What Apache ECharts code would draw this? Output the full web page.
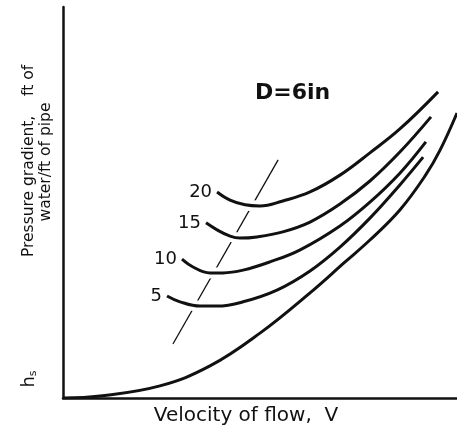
<!DOCTYPE html>
<html><head><meta charset="utf-8">
<script src="https://cdn.jsdelivr.net/npm/echarts@6/dist/echarts.min.js"></script>
<style>html,body{margin:0;padding:0;background:#fff}#c{width:457px;height:429px}</style>
</head><body><div id="c"></div>
<script>
// Clear-water curve (no label)
const clearX = [0, 9.4, 24.6, 37.3, 50.0, 62.7, 71.6, 77.9, 85.5, 91.9, 95.7, 100];
const clearY = [0, 0.5, 3.1, 8.2, 16.6, 26.9, 34.8, 40.4, 48.1, 56.8, 63.4, 72.9];
// Concentration curves (labels 20, 15, 10, 5)
const x20 = [39.1, 42.4, 46.2, 50.0, 55.8, 62.7, 70.3, 77.9, 85.5, 95.2];
const y20 = [52.7, 50.6, 49.4, 49.1, 50.4, 52.7, 57.0, 62.7, 68.8, 78.3];
const x15 = [36.3, 39.1, 42.4, 44.9, 49.2, 55.8, 62.7, 70.3, 77.9, 85.5, 93.4];
const y15 = [44.8, 43.0, 41.4, 40.9, 41.2, 42.5, 45.0, 49.6, 55.5, 62.9, 71.9];
const x10 = [30.2, 33.0, 37.3, 40.6, 45.7, 52.5, 60.2, 70.3, 77.9, 85.5, 92.1];
const y10 = [35.5, 33.5, 32.0, 32.0, 32.7, 34.8, 37.9, 44.0, 50.1, 57.5, 65.5];
const x5 = [26.4, 29.7, 34.8, 39.1, 45.7, 54.3, 62.7, 70.3, 77.9, 85.5, 91.4];
const y5 = [26.1, 24.6, 23.5, 23.5, 24.6, 27.6, 32.5, 38.6, 46.0, 54.5, 61.6];
const curveLabels = ['20', '15', '10', '5'];
// Dashed locus of minima
const dashX = [27.9, 54.6];
const dashY = [13.8, 60.9];

const INK = '#111';
const FONT = 'DejaVu Sans';
const SMOOTH = 0.4;
function pts(xs, ys) { return xs.map((x, i) => [x, ys[i]]); }

const curves = [[x20, y20], [x15, y15], [x10, y10], [x5, y5]];
const series = [];
series.push({
  type: 'line', data: pts(dashX, dashY), symbol: 'none', z: 1,
  lineStyle: { color: INK, width: 1.3 }
});
curves.forEach(c => series.push({
  type: 'line', data: pts(c[0], c[1]), symbol: 'none', smooth: SMOOTH, z: 2,
  lineStyle: { color: '#fff', width: 11 }
}));
curves.forEach((c, k) => series.push({
  type: 'line', smooth: SMOOTH, z: 3, showSymbol: true, showAllSymbol: true,
  symbol: 'circle', symbolSize: 2, itemStyle: { color: 'rgba(0,0,0,0)' },
  lineStyle: { color: INK, width: 3 },
  data: pts(c[0], c[1]).map((p, i) => i === 0 ? {
    value: p,
    label: { show: true, position: 'left', distance: 4, formatter: curveLabels[k],
      color: INK, fontSize: 18, fontFamily: FONT }
  } : { value: p })
}));
series.push({
  type: 'line', data: pts(clearX, clearY), symbol: 'none', smooth: SMOOTH, z: 3,
  lineStyle: { color: INK, width: 3 }
});

const axisCommon = {
  type: 'value', min: 0, max: 100,
  axisLine: { show: true, lineStyle: { color: INK, width: 2.5 } },
  axisTick: { show: false }, axisLabel: { show: false }, splitLine: { show: false }
};

const chart = echarts.init(document.getElementById('c'));
chart.setOption({
  animation: false,
  backgroundColor: '#fff',
  grid: { left: 63, right: 0, top: 7, bottom: 31 },
  xAxis: axisCommon,
  yAxis: axisCommon,
  series: series,
  graphic: [
    { type: 'text', x: 28.5, y: 161, rotation: Math.PI / 2,
      style: { text: 'Pressure gradient,    ft of', fontSize: 15.5, fontFamily: FONT, fill: INK, align: 'center', verticalAlign: 'middle' } },
    { type: 'text', x: 46, y: 162, rotation: Math.PI / 2,
      style: { text: 'water/ft of pipe', fontSize: 15.5, fontFamily: FONT, fill: INK, align: 'center', verticalAlign: 'middle' } },
    { type: 'text', x: 29, y: 379, rotation: Math.PI / 2,
      style: { text: '{h|h}{s|s}', fill: INK, align: 'center', verticalAlign: 'middle',
        rich: { h: { fontSize: 18, fontFamily: FONT, fill: INK }, s: { fontSize: 11, fontFamily: FONT, fill: INK, padding: [9, 0, 0, 0] } } } },
    { type: 'text', x: 246, y: 416,
      style: { text: 'Velocity of flow,  V', fontSize: 20, fontFamily: FONT, fill: INK, align: 'center', verticalAlign: 'middle' } },
    { type: 'text', x: 255, y: 93,
      style: { text: 'D=6in', fontSize: 22, fontWeight: 'bold', fontFamily: FONT, fill: INK, align: 'left', verticalAlign: 'middle' } }
  ]
});
</script></body></html>
